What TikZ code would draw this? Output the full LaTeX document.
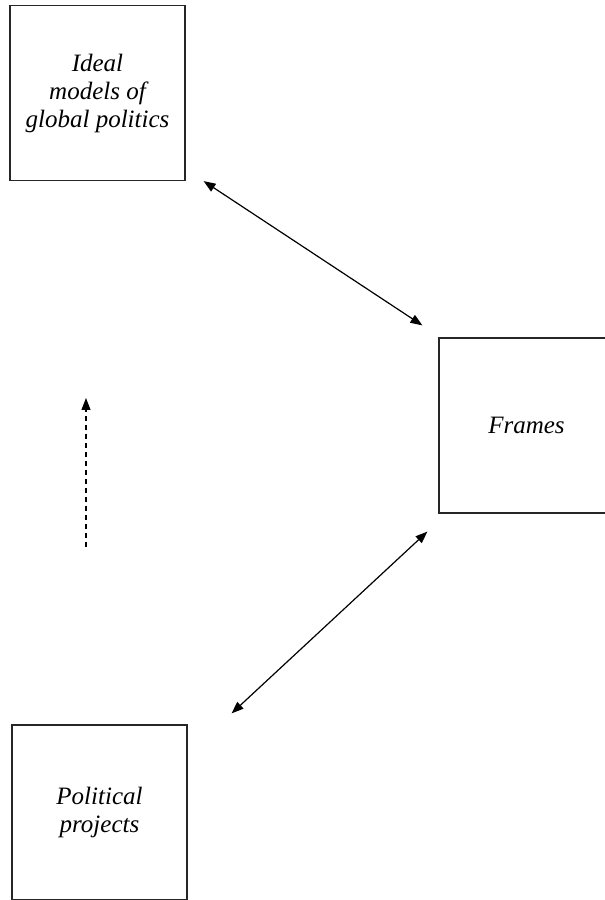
\documentclass[tikz,border=0pt]{standalone}
\usepackage{fontspec}
\setmainfont{Liberation Serif}
\usetikzlibrary{positioning, arrows.meta}
\tikzset{
  concept/.style = {
    rectangle, draw=black!85, line width=1.2pt,
    minimum width=175pt, minimum height=175pt, inner sep=0pt,
    align=center,
    font=\fontsize{25}{28}\selectfont\itshape,
  },
  link/.style = {line width=1.2pt, {Triangle[length=12pt,width=9pt]}-{Triangle[length=12pt,width=9pt]}},
  hint/.style = {line width=1.2pt, dash pattern=on 5pt off 4pt, -{Triangle[length=12pt,width=9pt]}},
}

\begin{document}
\begin{tikzpicture}[x=1pt, y=1pt]
    \clip (0,0) rectangle (605,900);
    \useasboundingbox (0,0) rectangle (605,900);
    % --- Nodes ---
    \node[concept] (ideal)  at (97.5,807) {Ideal\\models of\\global politics};
    \node[concept] (frames) at (526.5,474.5) {Frames};
    \node[concept] (proj)   at (99.5,87.5) {Political\\projects};
    \coordinate (dashfrom) at (86,353);
    \coordinate (dashto)   at (86,502);

    % --- Arrows ---
    \draw[link] ([xshift=18pt]ideal.south east) -- ([xshift=-16pt,yshift=12pt]frames.north west);
    \draw[link] ([xshift=-11pt,yshift=-18pt]frames.south west) -- ([xshift=44pt,yshift=11pt]proj.north east);
    % Dashed hint between the left boxes
    \draw[hint] (dashfrom) -- (dashto);
  \end{tikzpicture}
\end{document}
